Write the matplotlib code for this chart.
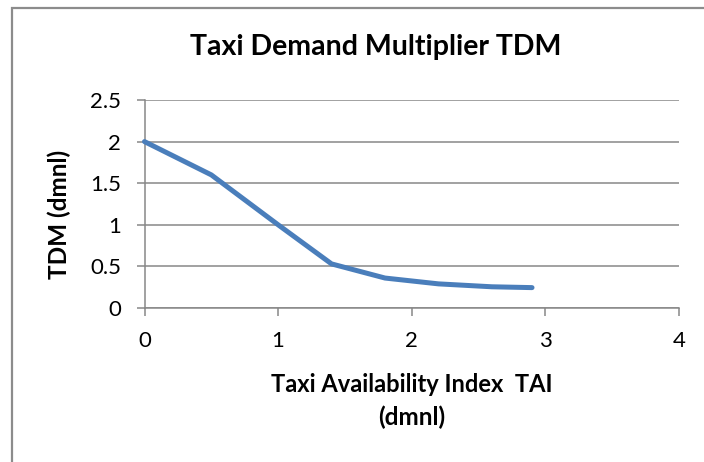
import matplotlib
matplotlib.use("Agg")
import matplotlib.pyplot as plt
from matplotlib.patches import Rectangle

tai = [0, 0.5, 1.0, 1.4, 1.8, 2.2, 2.6, 2.9]
tdm = [2.0, 1.6, 1.0, 0.53, 0.36, 0.29, 0.255, 0.245]
x_ticks = [0, 1, 2, 3, 4]
y_ticks = [0, 0.5, 1, 1.5, 2, 2.5]
y_tick_labels = ["0", "0.5", "1", "1.5", "2", "2.5"]

plt.rcParams['font.family'] = ['Lato', 'DejaVu Sans']

W, H = 704, 462
fig = plt.figure(figsize=(W / 100, H / 100), dpi=100)
fig.patch.set_facecolor('white')

# outer chart border (left/top visible, right/bottom cropped)
fig.patches.append(Rectangle((12 / W, -0.05), 1.2, 1 - 8 / H + 0.05, transform=fig.transFigure,
                             fill=False, edgecolor='#8c8c8c', linewidth=1.6, zorder=0))

left, right = 144.5 / W, 679 / W
top, bottom = 1 - 100 / H, 1 - 308 / H
ax = fig.add_axes([left, bottom, right - left, top - bottom])

ax.plot(tai, tdm, color='#4A7EBB', linewidth=3.6, solid_capstyle='round', solid_joinstyle='round',
        clip_on=False, zorder=3)

ax.set_xlim(0, 4)
ax.set_ylim(0, 2.5)
ax.set_xticks(x_ticks)
ax.set_xticklabels([str(v) for v in x_ticks])
ax.set_yticks(y_ticks)
ax.set_yticklabels(y_tick_labels)

grid_color = '#878787'
ax.yaxis.grid(True, color=grid_color, linewidth=1.1)
ax.set_axisbelow(True)
for s in ['top', 'right']:
    ax.spines[s].set_visible(False)
for s in ['left', 'bottom']:
    ax.spines[s].set_color(grid_color)
    ax.spines[s].set_linewidth(1.1)

ax.tick_params(axis='both', colors=grid_color, labelcolor='black', labelsize=16,
               length=5.8, width=1.1, direction='out')
ax.tick_params(axis='y', pad=11)
ax.tick_params(axis='x', pad=11)

fig.text(376 / W, 1 - 47.5 / H, 'Taxi Demand Multiplier TDM', ha='center', va='center',
         fontsize=20.5, fontweight='bold')
fig.text(59 / W, 1 - 214 / H, 'TDM (dmnl)', ha='center', va='center', rotation=90,
         fontsize=17.5, fontweight='bold')
fig.text(412 / W, 1 - 384 / H, 'Taxi Availability Index  TAI', ha='center', va='center',
         fontsize=17, fontweight='bold')
fig.text(412 / W, 1 - 417 / H, '(dmnl)', ha='center', va='center',
         fontsize=17.5, fontweight='bold')

fig.savefig('out.png', dpi=100, facecolor='white')
